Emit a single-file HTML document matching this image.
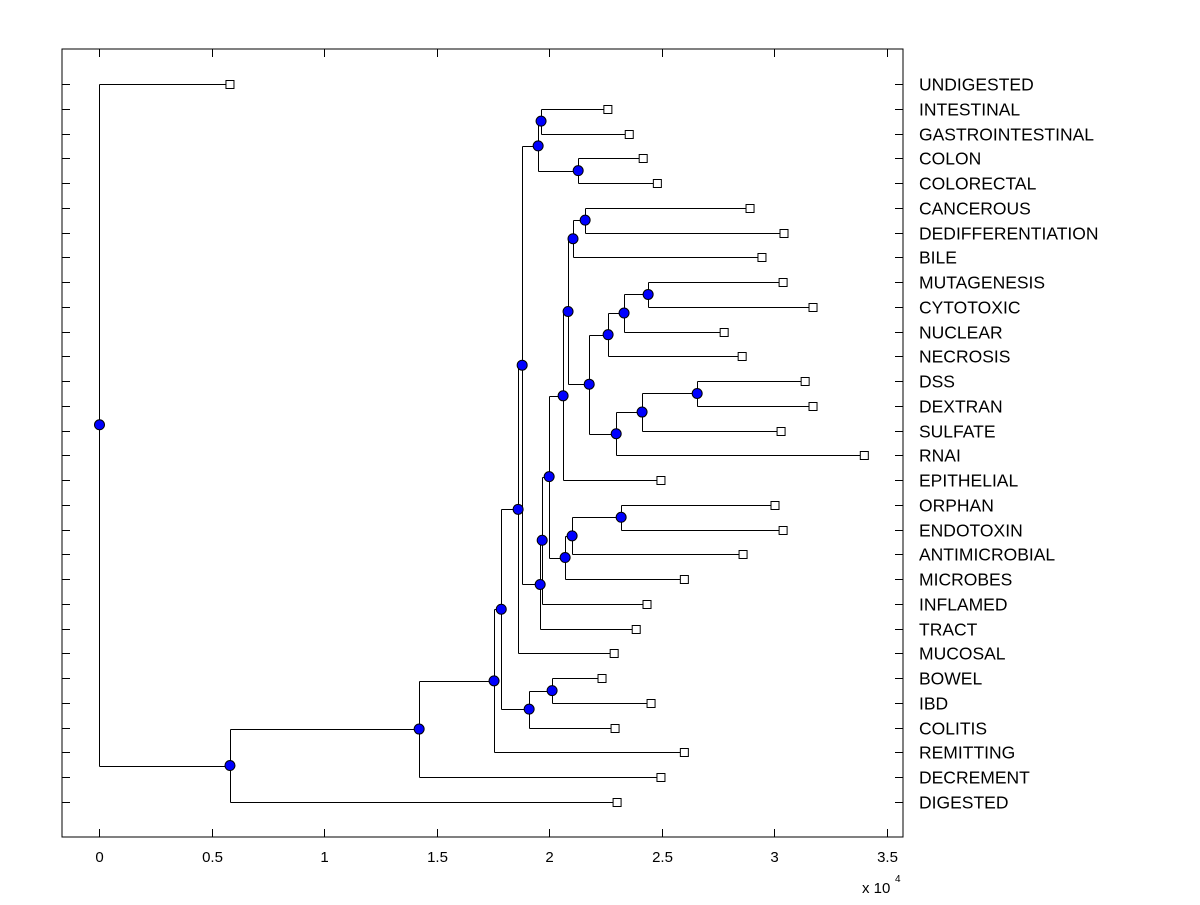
<!DOCTYPE html>
<html><head><meta charset="utf-8"><style>
html,body{margin:0;padding:0;background:#fff;}
svg text{font-family:"Liberation Sans",Arial,sans-serif;fill:#000;}
</style></head><body>
<svg id="chart" width="1200" height="900" xmlns="http://www.w3.org/2000/svg">
<rect x="0" y="0" width="1200" height="900" fill="#fff"/>
<g id="plot"></g>
</svg>
<script>
const labels = ["UNDIGESTED","INTESTINAL","GASTROINTESTINAL","COLON","COLORECTAL","CANCEROUS","DEDIFFERENTIATION","BILE","MUTAGENESIS","CYTOTOXIC","NUCLEAR","NECROSIS","DSS","DEXTRAN","SULFATE","RNAI","EPITHELIAL","ORPHAN","ENDOTOXIN","ANTIMICROBIAL","MICROBES","INFLAMED","TRACT","MUCOSAL","BOWEL","IBD","COLITIS","REMITTING","DECREMENT","DIGESTED"];
const leafValues = [0.58,2.26,2.355,2.417,2.48,2.892,3.043,2.945,3.039,3.172,2.777,2.857,3.137,3.172,3.03,3.4,2.496,3.003,3.039,2.861,2.6,2.434,2.386,2.288,2.234,2.452,2.292,2.6,2.496,2.301];
const mergeLeft  = [1,3,30,5,33,8,35,36,12,38,39,37,34,42,17,44,45,43,47,48,32,50,24,52,51,54,55,56,0];
const mergeRight = [2,4,31,6,7,9,10,11,13,14,15,40,41,16,18,19,20,46,21,22,49,23,25,26,53,27,28,29,57];
const mergeHeight = [1.963,2.128,1.95,2.159,2.105,2.439,2.332,2.261,2.657,2.412,2.297,2.177,2.083,2.061,2.319,2.101,2.07,1.999,1.968,1.959,1.879,1.861,2.012,1.91,1.786,1.754,1.421,0.58,0];
const xTicks = [0,0.5,1,1.5,2,2.5,3,3.5];
const xTickLabels = ["0","0.5","1","1.5","2","2.5","3","3.5"];

const NS="http://www.w3.org/2000/svg";
const plot=document.getElementById('plot');
const L=62,R=903,T=49,B=837;
const xMin=-0.1667,xMax=3.572;
function xs(v){return L+(v-xMin)/(xMax-xMin)*(R-L);}
const nRows=labels.length;
const step=(802-84)/(nRows-1);
function ys(i){return 84+i*step;}
function mk(tag,attrs){const e=document.createElementNS(NS,tag);for(const k in attrs)e.setAttribute(k,attrs[k]);plot.appendChild(e);return e;}

let box=mk('rect',{x:L,y:T,width:R-L,height:B-T,fill:'none',stroke:'#000','stroke-width':1});



xTicks.forEach((v,i)=>{
  const x=Math.round(xs(v))+0.5;
  let t1=mk('line',{x1:x,y1:B,x2:x,y2:B-8,stroke:'#000'});
  
  
  let t2=mk('line',{x1:x,y1:T,x2:x,y2:T+8,stroke:'#000'});
  
  
  let tx=mk('text',{x:x,y:862,'font-size':15,'text-anchor':'middle'});
  tx.textContent=xTickLabels[i];
  
  
});
let ex=mk('text',{x:862,y:893,'font-size':15});
ex.textContent='x 10';


let ex2=mk('text',{x:895,y:882,'font-size':10});
ex2.textContent='4';



labels.forEach((lab,i)=>{
  const y=Math.round(ys(i))+0.5;
  let a=mk('line',{x1:L,y1:y,x2:L+8,y2:y,stroke:'#000'});
  
  
  let b=mk('line',{x1:R,y1:y,x2:R-8,y2:y,stroke:'#000'});
  
  
  let t=mk('text',{x:919,y:y+6,'font-size':17.5});
  t.textContent=lab;
  
  
});

const nx=[],ny=[];
for(let i=0;i<nRows;i++){nx[i]=leafValues[i];ny[i]=ys(i);}
for(let k=0;k<mergeLeft.length;k++){
  const id=nRows+k,a=mergeLeft[k],b=mergeRight[k];
  nx[id]=mergeHeight[k];ny[id]=(ny[a]+ny[b])/2;
}
for(let k=0;k<mergeLeft.length;k++){
  const id=nRows+k,px=Math.round(xs(nx[id]))+0.5;
  [mergeLeft[k],mergeRight[k]].forEach(c=>{
    const cy=Math.round(ny[c])+0.5;
    let h=mk('line',{x1:px,y1:cy,x2:xs(nx[c]),y2:cy,stroke:'#000'});
    
    
  });
  let v=mk('line',{x1:px,y1:Math.round(ny[mergeLeft[k]])+0.5,x2:px,y2:Math.round(ny[mergeRight[k]])+0.5,stroke:'#000'});
  
  
}
for(let i=0;i<nRows;i++){
  let s=mk('rect',{x:xs(nx[i])-4,y:Math.round(ny[i])-3.5,width:8,height:8,fill:'#fff',stroke:'#000'});
  
  
}
for(let k=0;k<mergeLeft.length;k++){
  const id=nRows+k;
  let c=mk('circle',{cx:xs(nx[id]),cy:ny[id],r:5,fill:'#0000ff',stroke:'#000'});
  
  
}
</script>
</body></html>
